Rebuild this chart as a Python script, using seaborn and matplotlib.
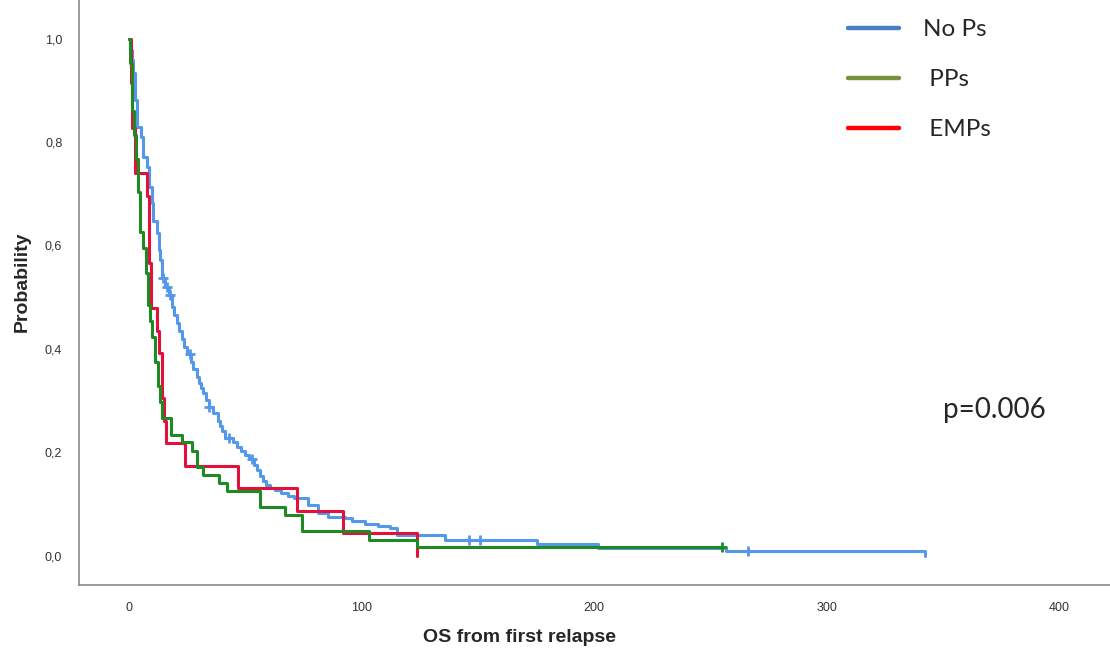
import numpy as np
import matplotlib
matplotlib.use('Agg')
import matplotlib.pyplot as plt
from matplotlib.lines import Line2D
import seaborn as sns

# Kaplan-Meier step curves (time in months, survival probability)
nops_t = [0, 0.6, 1.1, 1.7, 2.6, 3.6, 5.0, 6.2, 7.6, 8.7, 9.8, 10.5, 11.9, 13.0, 13.5,
          14.3, 15.5, 17.2, 18.4, 19.4, 20.5, 21.5, 22.7, 23.7, 24.8, 26.7, 27.7, 29.1,
          30.1, 31.0, 32.0, 33.1, 34.4, 36.1, 38.1, 39.1, 40.2, 41.5, 44.7, 46.5, 48.2,
          49.9, 51.6, 53.8, 55.1, 56.3, 57.6, 58.9, 60.6, 62.8, 65.4, 68.4, 71.0, 74.0,
          77.0, 81.3, 85.6, 92.9, 95.9, 101.5, 107.1, 112.3, 115.3, 135.9, 175.5, 201.7,
          256.8, 342.4]
nops_s = [1.0, 0.978, 0.958, 0.933, 0.881, 0.829, 0.809, 0.771, 0.751, 0.712, 0.681, 0.648,
          0.623, 0.590, 0.571, 0.537, 0.519, 0.504, 0.481, 0.465, 0.450, 0.434, 0.418, 0.404,
          0.389, 0.374, 0.361, 0.345, 0.334, 0.324, 0.314, 0.301, 0.287, 0.276, 0.260, 0.250,
          0.241, 0.228, 0.220, 0.210, 0.202, 0.194, 0.187, 0.175, 0.165, 0.154, 0.144, 0.136,
          0.131, 0.127, 0.121, 0.115, 0.111, 0.111, 0.098, 0.082, 0.074, 0.072, 0.067, 0.061,
          0.057, 0.053, 0.040, 0.030, 0.022, 0.0155, 0.0093, 0.0]
nops_cens = [14.8, 16.3, 17.6, 26.2, 34.6, 43.2, 52.9, 146.2, 151.0, 266.2]

pps_t = [0, 0.4, 1.3, 2.2, 3.0, 3.9, 4.7, 6.0, 7.3, 8.2, 9.0, 9.9, 11.2, 12.5, 13.3, 14.2,
         18.1, 22.8, 27.1, 29.2, 31.8, 38.7, 42.2, 56.3, 67.1, 74.4, 103.2, 123.9, 255.0]
pps_s = [1.0, 0.953, 0.859, 0.813, 0.766, 0.703, 0.625, 0.594, 0.547, 0.484, 0.453, 0.422,
         0.375, 0.328, 0.297, 0.266, 0.234, 0.219, 0.203, 0.172, 0.156, 0.141, 0.125, 0.094,
         0.078, 0.047, 0.031, 0.016, 0.016]
pps_cens = [255.0]

emps_t = [0, 1.0, 1.5, 2.5, 7.8, 8.6, 9.3, 12.0, 13.1, 14.2, 15.1, 15.9, 24.0, 46.9, 72.3,
          91.9, 123.9]
emps_s = [1.0, 0.913, 0.826, 0.739, 0.696, 0.565, 0.478, 0.435, 0.391, 0.304, 0.261, 0.217,
          0.174, 0.130, 0.087, 0.043, 0.0]

groups = ['No Ps', 'PPs', 'EMPs']
curve_colors = ['#5398ea', '#1f8a24', '#e3103c']
legend_colors = ['#4a7ec4', '#76923c', '#ff0000']
legend_labels = ['No Ps', ' PPs', ' EMPs']
p_text = 'p=0.006'

x_ticks = [0, 100, 200, 300, 400]
y_ticks = [0.0, 0.2, 0.4, 0.6, 0.8, 1.0]
y_ticklabels = ['0,0', '0,2', '0,4', '0,6', '0,8', '1,0']


def surv_at(times, surv, t):
    # value of the step curve at time t
    idx = np.searchsorted(times, t, side='right') - 1
    return surv[idx]


sns.set_style('white')
plt.rcParams['font.family'] = ['Liberation Sans', 'DejaVu Sans']

fig = plt.figure(figsize=(11.1, 6.54), dpi=100)
ax = fig.add_axes([79 / 1110, 69 / 654, 1031 / 1110, 585 / 654])

curves = [(nops_t, nops_s, nops_cens), (emps_t, emps_s, []), (pps_t, pps_s, pps_cens)]
order = [0, 2, 1]
for (t, s, cens), gi in zip(curves, order):
    sns.lineplot(x=t, y=s, ax=ax, color=curve_colors[gi], linewidth=2.2,
                 drawstyle='steps-post', estimator=None, sort=False, errorbar=None)
    if cens:
        cy = [surv_at(t, s, c) for c in cens]
        sns.scatterplot(x=cens, y=cy, ax=ax, marker='+', s=60, color=curve_colors[gi],
                        linewidth=2, zorder=5)

ax.set_xlim(-21.5, 421.9)
ax.set_ylim(-0.057, 1.0745)
ax.set_xticks(x_ticks)
ax.set_xticklabels([str(v) for v in x_ticks])
ax.set_yticks(y_ticks)
ax.set_yticklabels(y_ticklabels)
ax.tick_params(axis='both', labelsize=9, colors='#333333', length=0, pad=12)

for side in ['top', 'right']:
    ax.spines[side].set_visible(False)
for side in ['left', 'bottom']:
    ax.spines[side].set_color('#8a8a8a')
    ax.spines[side].set_linewidth(1.2)

ax.set_xlabel('OS from first relapse', fontsize=14, fontweight='bold')
ax.set_ylabel('Probability', fontsize=14, fontweight='bold', va='center')
ax.xaxis.set_label_coords(0.4268, -0.075)
ax.yaxis.set_label_coords(-0.0553, 0.519)

handles = [Line2D([0], [0], color=c, linewidth=3.2) for c in legend_colors]
fig.legend(handles, legend_labels, loc='upper left', bbox_to_anchor=(848 / 1110, 1 - 19 / 654),
           frameon=False, handlelength=2.1, handletextpad=1.0, labelspacing=1.2,
           borderpad=0, borderaxespad=0,
           prop={'family': ['Lato', 'DejaVu Sans'], 'size': 17.5})

ax.text(350, 0.281, p_text, ha='left', va='center', fontsize=20,
        family=['Lato', 'DejaVu Sans'])

fig.savefig('out.png', dpi=100)
